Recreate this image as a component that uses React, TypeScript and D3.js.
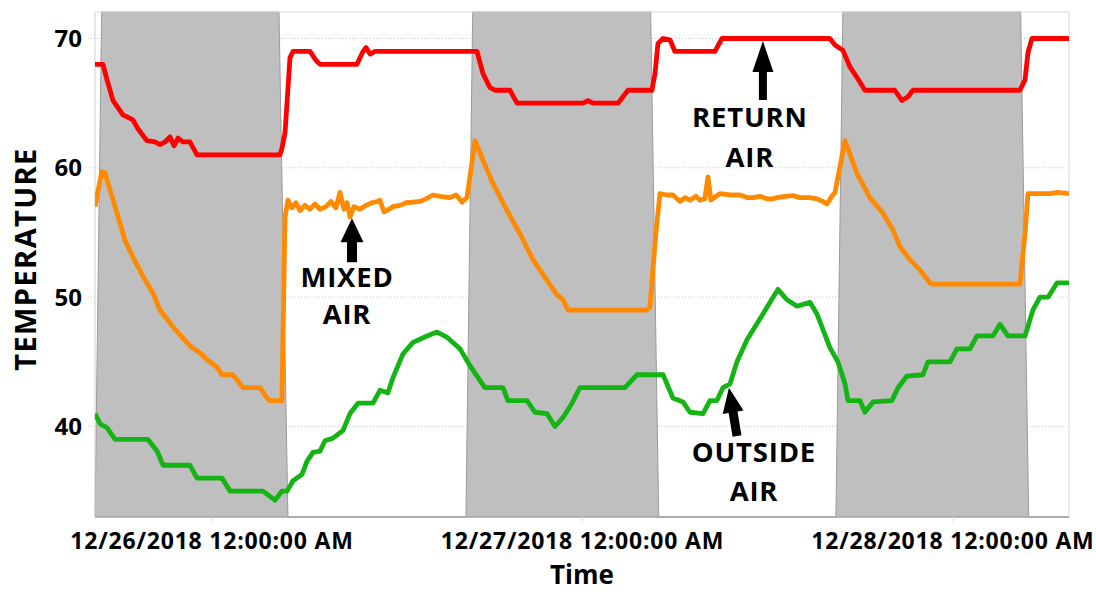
import * as d3 from "d3";

// hours after 12/26/2018 12:00 AM, temperature in °F
const returnAir: [number, number][] = [
  [-7.58, 68], [-7.06, 68], [-6.8, 66.8], [-6.41, 65.2], [-5.77, 64.1], [-5.12, 63.7],
  [-4.79, 63], [-4.21, 62.1], [-3.69, 62], [-3.37, 61.8], [-3.04, 62], [-2.72, 62.4],
  [-2.46, 61.7], [-2.2, 62.3], [-1.88, 62], [-1.43, 62], [-0.97, 61], [4.4, 61],
  [4.53, 61.5], [4.73, 62.7], [4.86, 65], [5.05, 68.5], [5.25, 69], [6.35, 69],
  [6.74, 68.3], [7.0, 68], [9.39, 68], [9.78, 69], [9.98, 69.3], [10.24, 68.8],
  [10.56, 69], [17.17, 69], [17.55, 67.3], [18.01, 66.2], [18.33, 66], [19.3, 66],
  [19.76, 65], [24.03, 65], [24.36, 65.2], [24.68, 65], [26.3, 65], [26.95, 66],
  [28.5, 66], [28.7, 67.3], [28.89, 69.6], [29.22, 70], [29.67, 69.9], [29.99, 69],
  [32.58, 69], [33.04, 70], [40.03, 70], [40.36, 69.5], [40.87, 69.1], [41.33, 67.8],
  [41.78, 67], [42.3, 66], [44.24, 66], [44.7, 65.2], [45.09, 65.5], [45.41, 66],
  [52.34, 66], [52.67, 66.8], [52.86, 68.9], [53.12, 70], [55.52, 70],
];

const mixedAir: [number, number][] = [
  [-7.58, 57], [-7.14, 59.7], [-6.93, 59.6], [-6.61, 58.3], [-6.15, 56.5], [-5.64, 54.4],
  [-5.12, 53.1], [-4.47, 51.6], [-3.82, 50.3], [-3.37, 49], [-2.53, 47.7], [-1.94, 46.9],
  [-1.3, 46.1], [-0.78, 45.7], [-0.26, 45.1], [0.32, 44.6], [0.65, 44], [1.36, 44],
  [2.01, 43], [3.11, 43], [3.56, 42.2], [3.76, 42], [4.53, 42], [4.73, 56.2],
  [4.92, 57.5], [5.18, 56.9], [5.44, 57.3], [5.7, 56.7], [6.02, 57.1], [6.35, 56.8],
  [6.67, 57.2], [7.0, 56.8], [7.38, 57.0], [7.71, 57.4], [8.03, 56.9], [8.29, 58.1],
  [8.55, 56.8], [8.75, 57.3], [8.94, 56.2], [9.2, 57.0], [9.59, 56.8], [9.98, 57.1],
  [10.36, 57.3], [10.69, 57.4], [10.88, 57.5], [11.14, 56.6], [11.34, 56.7], [11.73, 57.0],
  [12.18, 57.1], [12.57, 57.3], [13.02, 57.35], [13.47, 57.4], [13.86, 57.6], [14.32, 57.9],
  [14.77, 57.8], [15.42, 57.7], [15.81, 57.9], [16.2, 57.35], [16.52, 57.7], [17.04, 62.1],
  [17.55, 60.6], [18.2, 58.8], [19.11, 56.7], [19.95, 54.9], [20.79, 52.9], [21.7, 51.3],
  [22.35, 50.2], [22.74, 49.8], [23.06, 49], [28.18, 49], [28.37, 49.2], [28.76, 55],
  [29.02, 58], [29.47, 57.9], [29.86, 57.9], [30.32, 57.4], [30.64, 57.7], [30.96, 57.5],
  [31.35, 57.8], [31.61, 57.5], [31.93, 57.6], [32.13, 59.3], [32.32, 57.5], [32.65, 57.8],
  [32.91, 58], [33.56, 57.9], [34.2, 57.9], [34.66, 57.7], [35.05, 57.7], [35.5, 57.8],
  [35.95, 57.6], [36.34, 57.6], [36.6, 57.7], [37.12, 57.8], [37.64, 57.85], [38.09, 57.7],
  [38.74, 57.7], [39.19, 57.6], [39.58, 57.4], [39.84, 57.2], [40.16, 57.8], [40.36, 58.1],
  [41.01, 62.1], [41.78, 59.6], [42.62, 57.7], [43.47, 56.5], [44.11, 55.2], [44.57, 53.9],
  [45.22, 52.9], [45.86, 52.1], [46.51, 51.1], [46.7, 51], [52.34, 51], [52.67, 54.9],
  [52.86, 58], [54.29, 58], [54.81, 58.1], [55.52, 58],
];

const outsideAir: [number, number][] = [
  [-7.58, 41], [-7.25, 40.2], [-6.8, 39.9], [-6.28, 39], [-4.15, 39], [-3.56, 38.1],
  [-3.17, 37], [-1.43, 37], [-0.97, 36], [0.65, 36], [1.17, 35], [3.3, 35],
  [4.08, 34.3], [4.53, 35], [4.86, 35], [5.25, 35.8], [5.83, 36.3], [6.15, 37.3],
  [6.54, 38], [7.0, 38.1], [7.32, 38.9], [7.84, 39.1], [8.49, 39.7], [8.94, 41],
  [9.46, 41.8], [10.43, 41.8], [10.88, 42.8], [11.4, 42.6], [11.73, 43.8], [12.37, 45.6],
  [13.02, 46.5], [13.93, 47], [14.58, 47.3], [15.22, 46.9], [16.07, 46], [16.71, 44.7],
  [17.17, 43.9], [17.68, 43], [18.85, 43], [19.17, 42], [20.41, 42], [20.92, 41.1],
  [21.7, 41], [22.22, 40], [22.74, 40.7], [23.32, 41.8], [23.84, 43], [26.75, 43],
  [27.53, 44], [29.22, 44], [29.86, 42.2], [30.51, 41.9], [30.96, 41.1], [31.81, 41],
  [32.26, 42], [32.71, 42], [33.1, 43], [33.56, 43.3], [34.01, 45], [34.66, 46.7],
  [35.69, 48.7], [36.66, 50.6], [37.25, 49.8], [37.9, 49.3], [38.74, 49.6], [39.19, 48.7],
  [40.03, 46.1], [40.55, 45], [41.01, 43.3], [41.2, 42], [41.98, 42], [42.3, 41.1],
  [42.82, 41.9], [44.05, 42], [44.44, 43], [45.02, 43.9], [46.06, 44], [46.38, 45],
  [47.81, 45], [48.26, 46], [49.1, 46], [49.56, 47], [50.59, 47], [51.05, 47.9],
  [51.56, 47], [52.67, 47], [53.18, 49], [53.64, 50], [54.16, 50], [54.74, 51.1],
  [55.52, 51.1],
];

// 1 = unoccupied (shaded)
const unoccupied: [number, number][] = [
  [-7.58, 0], [-7.15, 1], [4.34, 1], [4.92, 0], [16.45, 0], [16.89, 1],
  [28.42, 1], [28.94, 0], [40.42, 0], [40.87, 1], [52.39, 1], [52.91, 0], [55.52, 0],
];

const dayTicks = [0, 24, 48];
const tempTicks = [40, 50, 60, 70];
const tempDomain: [number, number] = [33, 72.05];

const annotations = [
  { lines: ["RETURN", "AIR"], tip: [35.69, 69.8], len: 59, head: 31, headW: 21, shaftW: 8, angle: 0, dx: -13, dy: [86, 126] },
  { lines: ["MIXED", "AIR"], tip: [9.07, 56.1], len: 44, head: 24, headW: 23, shaftW: 10, angle: 0, dx: -5, dy: [69, 106] },
  { lines: ["OUTSIDE", "AIR"], tip: [33.49, 43.0], len: 49, head: 25, headW: 21, shaftW: 9, angle: -9.5, dx: 25, dy: [74, 113] },
];

const BASE = new Date(2018, 11, 26, 0, 0, 0).getTime();
const toDate = (h: number) => new Date(BASE + h * 3600 * 1000);

const FONT = "'Open Sans', 'DejaVu Sans', sans-serif";

function arrowPath(len: number, head: number, headW: number, shaftW: number) {
  return `M0,0 L${headW / 2},${head} L${shaftW / 2},${head} L${shaftW / 2},${len} L${-shaftW / 2},${len} L${-shaftW / 2},${head} L${-headW / 2},${head} Z`;
}

export default function App() {
  const width = 1096;
  const height = 592;
  const margin = { top: 12, right: 27, bottom: 75, left: 95 };
  const innerW = width - margin.left - margin.right;
  const innerH = height - margin.top - margin.bottom;

  const x = d3
    .scaleTime()
    .domain([toDate(returnAir[0][0]), toDate(returnAir[returnAir.length - 1][0])])
    .range([0, innerW]);
  const y = d3.scaleLinear().domain(tempDomain).range([innerH, 0]);

  const line = d3
    .line<[number, number]>()
    .x((d) => x(toDate(d[0])))
    .y((d) => y(d[1]));

  const area = d3
    .area<[number, number]>()
    .x((d) => x(toDate(d[0])))
    .y0(innerH)
    .y1((d) => (d[1] ? y(tempDomain[1]) : innerH));

  const fmt = d3.timeFormat("%m/%d/%Y %I:%M:%S %p");

  const series = [
    { data: outsideAir, color: "#14b414" },
    { data: mixedAir, color: "#ff8a00" },
    { data: returnAir, color: "#ff0000" },
  ];

  return (
    <div style={{ position: "absolute", left: 0, top: 0 }}>
      <svg width={width} height={height} style={{ display: "block", background: "#fff" }}>
        <defs>
          <clipPath id="plot-clip">
            <rect width={innerW} height={innerH} />
          </clipPath>
        </defs>
        <g transform={`translate(${margin.left},${margin.top})`}>
          {/* grid */}
          {tempTicks.map((t) => (
            <line
              key={t}
              x1={-7}
              x2={innerW}
              y1={y(t)}
              y2={y(t)}
              stroke="#c8c8c8"
              strokeWidth={1}
              strokeDasharray="1 2"
            />
          ))}

          {/* unoccupied shading */}
          <path d={area(unoccupied) || ""} fill="#bfbfbf" stroke="#9a9a9a" strokeWidth={1} />

          {/* frame */}
          <line x1={0} x2={innerW} y1={0} y2={0} stroke="#d9d9d9" />
          <line x1={0} x2={0} y1={0} y2={innerH} stroke="#d0d0d0" />
          <line x1={innerW} x2={innerW} y1={0} y2={innerH} stroke="#d9d9d9" />
          <line x1={0} x2={innerW} y1={innerH} y2={innerH} stroke="#a6a6a6" />

          {dayTicks.map((h) => (
            <line
              key={h}
              x1={x(toDate(h))}
              x2={x(toDate(h))}
              y1={innerH}
              y2={innerH + 5}
              stroke="#c8c8c8"
              strokeDasharray="1 1"
            />
          ))}

          <g clipPath="url(#plot-clip)">
            {series.map((s) => (
              <path
                key={s.color}
                d={line(s.data) || ""}
                fill="none"
                stroke={s.color}
                strokeWidth={4.8}
                strokeLinejoin="round"
              />
            ))}
          </g>

          {/* annotations */}
          {annotations.map((a) => {
            const tx = x(toDate(a.tip[0]));
            const ty = y(a.tip[1]);
            return (
              <g key={a.lines[0]}>
                <path
                  d={arrowPath(a.len, a.head, a.headW, a.shaftW)}
                  transform={`translate(${tx},${ty}) rotate(${a.angle})`}
                  fill="#000"
                />
                {a.lines.map((l, i) => (
                  <text
                    key={l}
                    x={tx + a.dx}
                    y={ty + a.dy[i]}
                    textAnchor="middle"
                    fontFamily={FONT}
                    fontWeight={700}
                    fontSize={27.5}
                    letterSpacing={0.8}
                    fill="#000"
                  >
                    {l}
                  </text>
                ))}
              </g>
            );
          })}

          {/* y axis labels */}
          {tempTicks.map((t) => (
            <text
              key={t}
              x={-13}
              y={y(t) + 8.5}
              textAnchor="end"
              fontFamily={FONT}
              fontWeight={700}
              fontSize={24}
              fill="#000"
            >
              {t}
            </text>
          ))}

          {/* x axis labels */}
          {dayTicks.map((h) => (
            <text
              key={h}
              x={x(toDate(h))}
              y={innerH + 32}
              textAnchor="middle"
              fontFamily={FONT}
              fontWeight={700}
              fontSize={23}
              letterSpacing={0.8}
              fill="#000"
            >
              {fmt(toDate(h))}
            </text>
          ))}

          <text
            x={innerW / 2}
            y={innerH + 67}
            textAnchor="middle"
            fontFamily={FONT}
            fontWeight={700}
            fontSize={26}
            fill="#000"
          >
            Time
          </text>

          <text
            transform={`translate(${36 - margin.left},${259 - margin.top}) rotate(-90)`}
            textAnchor="middle"
            fontFamily={FONT}
            fontWeight={700}
            fontSize={29}
            letterSpacing={1.4}
            fill="#000"
          >
            TEMPERATURE
          </text>
        </g>
      </svg>
    </div>
  );
}
